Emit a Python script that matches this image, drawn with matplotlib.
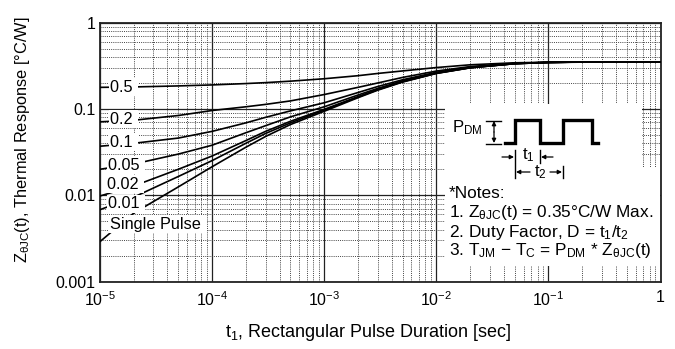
import numpy as np
import matplotlib
matplotlib.use("Agg")
import matplotlib.pyplot as plt
from matplotlib.ticker import FixedLocator, FixedFormatter, LogLocator, NullFormatter
from matplotlib.patches import Rectangle

plt.rcParams['font.family'] = ['Liberation Sans', 'DejaVu Sans']
plt.rcParams['mathtext.fontset'] = 'custom'
plt.rcParams['mathtext.rm'] = 'Liberation Sans'
plt.rcParams['mathtext.it'] = 'Liberation Sans:italic'
plt.rcParams['mathtext.bf'] = 'Liberation Sans:bold'

# ---------------- data ----------------
t = [1e-5, 2e-5, 5e-5, 1e-4, 2e-4, 3e-4, 5e-4, 1e-3, 2e-3, 3e-3, 5e-3,
     1e-2, 2e-2, 5e-2, 1e-1, 2e-1, 1.0]
z_d050 = [0.178, 0.180, 0.185, 0.190, 0.197, 0.202, 0.210, 0.224, 0.243, 0.258, 0.276,
          0.302, 0.325, 0.343, 0.348, 0.350, 0.350]
z_d020 = [0.071, 0.074, 0.084, 0.096, 0.106, 0.113, 0.124, 0.147, 0.178, 0.200, 0.232,
          0.275, 0.310, 0.338, 0.347, 0.350, 0.350]
z_d010 = [0.037, 0.040, 0.046, 0.055, 0.069, 0.080, 0.095, 0.118, 0.155, 0.182, 0.218,
          0.266, 0.305, 0.337, 0.347, 0.350, 0.350]
z_d005 = [0.020, 0.023, 0.030, 0.038, 0.053, 0.064, 0.081, 0.106, 0.145, 0.173, 0.212,
          0.262, 0.302, 0.336, 0.347, 0.350, 0.350]
z_d002 = [0.0098, 0.0128, 0.020, 0.0285, 0.043, 0.055, 0.072, 0.099, 0.139, 0.168, 0.208,
          0.260, 0.301, 0.335, 0.346, 0.350, 0.350]
z_d001 = [0.0068, 0.0095, 0.0165, 0.0252, 0.040, 0.052, 0.069, 0.097, 0.137, 0.167, 0.207,
          0.259, 0.300, 0.335, 0.346, 0.350, 0.350]
z_single = [0.0029, 0.0062, 0.0125, 0.0214, 0.036, 0.048, 0.066, 0.094, 0.135, 0.165, 0.205,
            0.258, 0.300, 0.335, 0.346, 0.349, 0.350]

series = [z_d050, z_d020, z_d010, z_d005, z_d002, z_d001, z_single]
series_labels = ["0.5", "0.2", "0.1", "0.05", "0.02", "0.01", "Single Pulse"]

xticks = [1e-5, 1e-4, 1e-3, 1e-2, 1e-1, 1.0]
xtick_labels = ["10$^{-5}$", "10$^{-4}$", "10$^{-3}$", "10$^{-2}$", "10$^{-1}$", "1"]
yticks = [0.001, 0.01, 0.1, 1.0]
ytick_labels = ["0.001", "0.01", "0.1", "1"]

# ---------------- figure ----------------
W, H = 675, 349
fig = plt.figure(figsize=(W / 100, H / 100), dpi=100)
L, R, T, B = 100.0, 660.5, 22.7, 281.5
ax = fig.add_axes([L / W, (H - B) / H, (R - L) / W, (B - T) / H])

def fx(px):
    return (px - L) / (R - L)

def fy(py):
    return (B - py) / (B - T)

ax.set_xscale('log')
ax.set_yscale('log')
ax.set_xlim(1e-5, 1)
ax.set_ylim(1e-3, 1)

ax.xaxis.set_major_locator(FixedLocator(xticks))
ax.xaxis.set_major_formatter(FixedFormatter(xtick_labels))
ax.yaxis.set_major_locator(FixedLocator(yticks))
ax.yaxis.set_major_formatter(FixedFormatter(ytick_labels))
ax.xaxis.set_minor_locator(LogLocator(base=10, subs=np.arange(2, 10)))
ax.yaxis.set_minor_locator(LogLocator(base=10, subs=np.arange(2, 10)))
ax.xaxis.set_minor_formatter(NullFormatter())
ax.yaxis.set_minor_formatter(NullFormatter())
ax.tick_params(which='both', length=0, colors='black')
ax.tick_params(axis='x', pad=6, labelsize=11.5)
ax.tick_params(axis='y', pad=3, labelsize=11.5)

ax.grid(which='major', color='#222222', linewidth=0.9, linestyle='-', zorder=0)
ax.grid(which='minor', color='#444444', linewidth=0.7, linestyle=(0, (1, 1.2)), zorder=0)
ax.set_axisbelow(True)
for sp in ax.spines.values():
    sp.set_linewidth(1.3)
    sp.set_color('#222222')

for z in series:
    ax.plot(t, z, color='black', linewidth=1.2, zorder=3)

# curve labels
label_pos = [(110, 87), (110, 119), (110, 142), (108, 165), (107, 184), (108, 204), (110, 224)]
for lab, (px, py) in zip(series_labels, label_pos):
    ax.text(fx(px), fy(py), lab + " ", transform=ax.transAxes, fontsize=11.7,
            ha='left', va='center', zorder=5,
            bbox=dict(boxstyle='square,pad=0.08', facecolor='white', edgecolor='none'))

# white note boxes
ax.add_patch(Rectangle((fx(445), fy(167)), fx(642) - fx(445), fy(104) - fy(167),
                       transform=ax.transAxes, facecolor='white', edgecolor='none', zorder=4))
ax.add_patch(Rectangle((fx(445), fy(266)), fx(660) - fx(445), fy(167) - fy(266),
                       transform=ax.transAxes, facecolor='white', edgecolor='none', zorder=4))

# pulse diagram
px_wave = [505, 515, 515, 540, 540, 563.3, 563.3, 591.7, 591.7, 598.3]
py_wave = [143.3, 143.3, 120, 120, 143.3, 143.3, 120, 120, 143.3, 143.3]
ax.plot([fx(p) for p in px_wave], [fy(p) for p in py_wave], transform=ax.transAxes,
        color='black', linewidth=2.4, solid_joinstyle='miter', zorder=6, clip_on=False)

def seg(x0, y0, x1, y1, lw=1.0):
    ax.plot([fx(x0), fx(x1)], [fy(y0), fy(y1)], transform=ax.transAxes,
            color='black', linewidth=lw, zorder=6)

def arrow(x0, y0, x1, y1):
    ax.annotate("", xy=(fx(x1), fy(y1)), xytext=(fx(x0), fy(y0)),
                xycoords='axes fraction', textcoords='axes fraction',
                arrowprops=dict(arrowstyle='-|>', color='black', lw=0.9,
                                mutation_scale=6, shrinkA=0, shrinkB=0), zorder=6)

# P_DM indicator
seg(486, 120.5, 501, 120.5)
seg(486, 143.5, 501, 143.5)
arrow(494, 132, 494, 121)
arrow(494, 132, 494, 143)
ax.text(fx(452), fy(128), r"P$_{\mathrm{DM}}$", transform=ax.transAxes, fontsize=12,
        ha='left', va='center', zorder=6)

# t1 / t2 dimensions
seg(515, 150, 515, 178)
seg(540, 150, 540, 163)
seg(563.3, 166, 563.3, 178)
arrow(502, 157, 514, 157)
arrow(553, 157, 541, 157)
arrow(530, 172, 516, 172)
arrow(550, 172, 562, 172)
ax.text(fx(528), fy(155), r"t$_1$", transform=ax.transAxes, fontsize=12,
        ha='center', va='center', zorder=6)
ax.text(fx(540.5), fy(172), r"t$_2$", transform=ax.transAxes, fontsize=12,
        ha='center', va='center', zorder=6)

notes = ["*Notes:",
         r"1. Z$_{\mathrm{θJC}}$(t) = 0.35°C/W Max.",
         r"2. Duty Factor, D = t$_1$/t$_2$",
         r"3. T$_{\mathrm{JM}}$ − T$_{\mathrm{C}}$ = P$_{\mathrm{DM}}$ * Z$_{\mathrm{θJC}}$(t)"]
notes_y = [193, 213, 232, 251]
for s, py in zip(notes, notes_y):
    ax.text(fx(449), fy(py), s, transform=ax.transAxes, fontsize=12.4,
            ha='left', va='center', zorder=6)

ax.set_xlabel(r"t$_1$, Rectangular Pulse Duration [sec]", fontsize=13)
ax.xaxis.set_label_coords(fx(368.5), fy(322))
ax.set_ylabel(r"Z$_{\mathrm{θJC}}$(t), Thermal Response [°C/W]", fontsize=11.8)
ax.yaxis.label.set_va('center')
ax.yaxis.set_label_coords(fx(22), fy(140))

fig.savefig("out.png", dpi=100, facecolor='white')
